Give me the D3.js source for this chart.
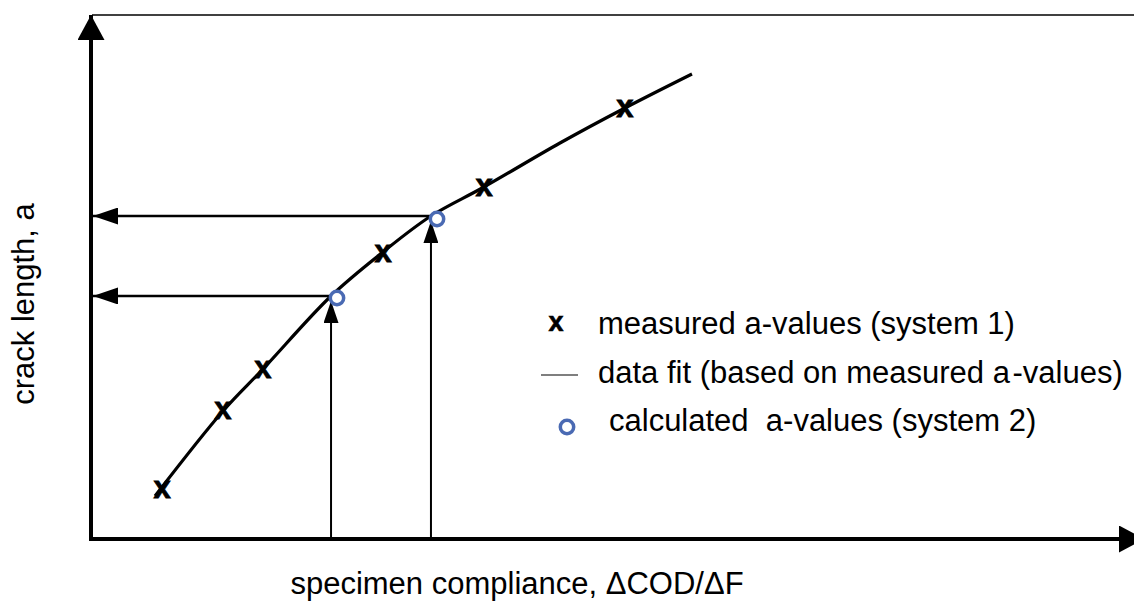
<!DOCTYPE html>
<html>
<head>
<meta charset="utf-8">
<script src="https://cdn.jsdelivr.net/npm/d3@7/dist/d3.min.js"></script>
<style>
  html, body { margin: 0; padding: 0; background: #fff; }
  svg { display: block; }
  text { font-family: "Liberation Sans", Arial, Helvetica, sans-serif; fill: #000; white-space: pre; }
</style>
</head>
<body>
<svg id="chart" width="1134" height="608"></svg>
<script>
// Specimen compliance (ΔCOD/ΔF) and crack length a, arbitrary units
const measuredC = [0.672, 1.257, 1.641, 2.793, 3.762, 5.115];
const measuredA = [0.952, 2.457, 3.238, 5.448, 6.705, 8.210];

// Fitted curve through the measured values
const fitC = [0.605, 1.257, 1.641, 2.294, 2.793, 3.253, 3.762, 4.491, 5.115, 5.758];
const fitA = [0.838, 2.457, 3.257, 4.648, 5.486, 6.171, 6.724, 7.562, 8.229, 8.876];

// Values calculated by system 2
const calcC = [2.351, 3.311];
const calcA = [4.610, 6.114];

// Read-out points on the fit (compliance -> crack length)
const readC = [2.294, 3.253];
const readA = [4.648, 6.171];

const xTitle = "specimen compliance, \u0394COD/\u0394F";
const yTitle = "crack length, a";
const legendLabels = [
  "measured a-values (system 1)",
  "data fit (based on measured a\u200A-values)",
  "calculated  a-values (system 2)"
];

const svg = d3.select("#chart");
const x = d3.scaleLinear().domain([0, 10]).range([92, 1134]);
const y = d3.scaleLinear().domain([0, 10]).range([540, 15]);

const defs = svg.append("defs");
function arrowMarker(id, w, h) {
  defs.append("marker")
    .attr("id", id)
    .attr("viewBox", `0 ${-h / 2} ${w} ${h}`)
    .attr("refX", w).attr("refY", 0)
    .attr("markerUnits", "userSpaceOnUse")
    .attr("markerWidth", w).attr("markerHeight", h)
    .attr("orient", "auto")
    .append("path")
    .attr("d", `M0,${-h / 2}L${w},0L0,${h / 2}Z`)
    .attr("fill", "#000");
}
arrowMarker("axisHead", 25, 27);
arrowMarker("hHead", 25, 17);
arrowMarker("vHead", 22, 15);

// Frame line along the top
svg.append("line")
  .attr("x1", x(0)).attr("x2", x(10))
  .attr("y1", y(10)).attr("y2", y(10))
  .attr("stroke", "#000").attr("stroke-width", 1.5);

// Axes without ticks, drawn as heavy arrows
const xAxis = d3.axisBottom(x).ticks(0).tickSize(0).tickSizeOuter(0);
const yAxis = d3.axisLeft(y).ticks(0).tickSize(0).tickSizeOuter(0);
svg.append("g").attr("transform", `translate(0,${y(0) - 1})`).call(xAxis)
  .select(".domain").remove();
svg.append("g").attr("transform", `translate(${x(0) - 1},0)`).call(yAxis)
  .select(".domain").remove();

svg.append("line")
  .attr("x1", x(0) - 3).attr("x2", x(10) + 10)
  .attr("y1", y(0) - 1).attr("y2", y(0) - 1)
  .attr("stroke", "#000").attr("stroke-width", 4)
  .attr("marker-end", "url(#axisHead)");
svg.append("line")
  .attr("x1", x(0) - 1).attr("x2", x(0) - 1)
  .attr("y1", y(0) + 1).attr("y2", y(10))
  .attr("stroke", "#000").attr("stroke-width", 4)
  .attr("marker-end", "url(#axisHead)");

// Read-out arrows: up from the compliance axis, then left to the crack length axis
readC.forEach((c, i) => {
  svg.append("line")
    .attr("x1", x(c)).attr("x2", x(c))
    .attr("y1", y(0)).attr("y2", y(readA[i]) + 5)
    .attr("stroke", "#000").attr("stroke-width", 2)
    .attr("marker-end", "url(#vHead)");
  svg.append("line")
    .attr("x1", x(c)).attr("x2", x(0) + 1)
    .attr("y1", y(readA[i])).attr("y2", y(readA[i]))
    .attr("stroke", "#000").attr("stroke-width", 2.5)
    .attr("marker-end", "url(#hHead)");
});

// Data fit
const fitPts = fitC.map((c, i) => [x(c), y(fitA[i])]);
svg.append("path")
  .attr("d", d3.line().curve(d3.curveCatmullRom.alpha(0.5))(fitPts))
  .attr("fill", "none").attr("stroke", "#000").attr("stroke-width", 3.2);

// Measured points (bold x glyphs)
svg.append("g").selectAll("text")
  .data(measuredC)
  .join("text")
  .attr("x", d => x(d))
  .attr("y", (d, i) => y(measuredA[i]) + 8)
  .attr("text-anchor", "middle")
  .attr("font-size", 31).attr("font-weight", "bold")
  .attr("stroke", "#000").attr("stroke-width", 0.8)
  .text("x");

// Calculated points (open circles)
const blue = "#4a6ab3";
svg.append("g").selectAll("circle")
  .data(calcC)
  .join("circle")
  .attr("cx", d => x(d))
  .attr("cy", (d, i) => y(calcA[i]))
  .attr("r", 6.7)
  .attr("fill", "#fff").attr("stroke", blue).attr("stroke-width", 3.5);

// Axis titles
svg.append("text")
  .attr("x", 517).attr("y", 594)
  .attr("text-anchor", "middle")
  .attr("font-size", 31)
  .text(xTitle);
svg.append("text")
  .attr("transform", "translate(34,304) rotate(-90)")
  .attr("text-anchor", "middle")
  .attr("font-size", 31)
  .text(yTitle);

// Legend
const lg = svg.append("g");
lg.append("text")
  .attr("x", 556).attr("y", 331)
  .attr("text-anchor", "middle")
  .attr("font-size", 27).attr("font-weight", "bold")
  .attr("stroke", "#000").attr("stroke-width", 0.6)
  .text("x");
lg.append("line")
  .attr("x1", 541).attr("x2", 578)
  .attr("y1", 375).attr("y2", 375)
  .attr("stroke", "#000").attr("stroke-width", 1.2);
lg.append("circle")
  .attr("cx", 567).attr("cy", 427).attr("r", 6.7)
  .attr("fill", "#fff").attr("stroke", blue).attr("stroke-width", 3.5);
const legendX = [598, 598, 609];
const legendY = [334, 383, 431];
lg.selectAll("text.lbl")
  .data(legendLabels)
  .join("text")
  .attr("class", "lbl")
  .attr("x", (d, i) => legendX[i])
  .attr("y", (d, i) => legendY[i])
  .attr("font-size", 31)
  .text(d => d);
</script>
</body>
</html>
